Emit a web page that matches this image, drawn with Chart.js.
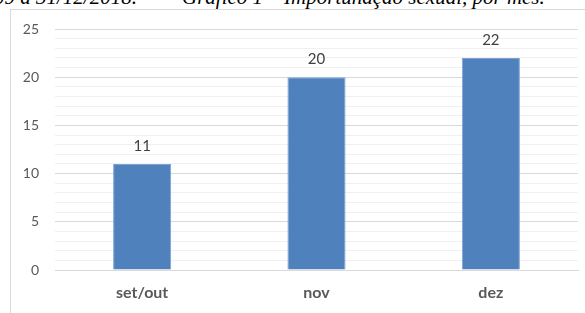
<!DOCTYPE html>
<html>
<head>
<meta charset="utf-8">
<script src="https://cdn.jsdelivr.net/npm/chart.js@4/dist/chart.umd.min.js"></script>
<style>
    html, body { margin: 0; padding: 0; background: #fff; overflow: hidden; }
    body { width: 585px; height: 313px; position: relative; }
    .caption {
        position: absolute; top: -13px; margin: 0;
        font: italic 21px "Liberation Serif", "DejaVu Serif", serif;
        line-height: 21px; color: #000; white-space: pre;
    }
    #frame {
        position: absolute; left: 10px; top: 9px; width: 600px; height: 320px;
        border-left: 1px solid #d9d9d9; border-top: 1px solid #d9d9d9;
    }
    #wrap { position: absolute; left: 0; top: 0; width: 585px; height: 313px; }
</style>
</head>
<body>
<div class="caption" style="left:-6px">09 a 31/12/2018.</div>
<div class="caption" style="left:182px">Gráfico 1 – Importunação sexual, por mês.</div>
<div id="frame"></div>
<div id="wrap"><canvas id="chart"></canvas></div>
<script>
// Importunação sexual, por mês
const months = ['set/out', 'nov', 'dez'];
const cases = [11, 20, 22];

const textGrey = '#595959';

// draw value labels above the bars
const barLabels = {
    id: 'barLabels',
    afterDatasetsDraw(chart) {
        const ctx = chart.ctx;
        const meta = chart.getDatasetMeta(0);
        ctx.save();
        ctx.font = '15px Lato, "Open Sans", sans-serif';
        ctx.fillStyle = '#404040';
        ctx.textAlign = 'center';
        ctx.textBaseline = 'middle';
        meta.data.forEach((bar, i) => {
            ctx.fillText(String(cases[i]), bar.x, bar.y - 18);
        });
        ctx.restore();
    }
};

new Chart(document.getElementById('chart'), {
    type: 'bar',
    data: {
        labels: months,
        datasets: [{
            data: cases,
            backgroundColor: '#4f81bd',
            borderColor: '#7da3d3',
            borderWidth: 1,
            barPercentage: 0.5,
            categoryPercentage: 0.667
        }]
    },
    options: {
        responsive: true,
        maintainAspectRatio: false,
        animation: false,
        layout: { padding: { top: 29, right: 7, bottom: 0, left: 0 } },
        plugins: { legend: { display: false }, tooltip: { enabled: false } },
        scales: {
            x: {
                grid: { display: false, drawTicks: false },
                border: { color: '#d9d9d9' },
                ticks: {
                    color: textGrey,
                    padding: 13,
                    font: { family: 'Lato, "Open Sans", sans-serif', size: 16, weight: 'bold' }
                },
                afterFit(scale) { scale.height = 43; }
            },
            y: {
                min: 0,
                max: 25,
                border: { display: false },
                grid: {
                    drawTicks: false,
                    color: ctx => (ctx.tick && ctx.tick.value % 5 === 0) ? '#d9d9d9' : '#f0f0f0'
                },
                ticks: {
                    stepSize: 1,
                    autoSkip: false,
                    color: textGrey,
                    padding: 16,
                    font: { family: 'Lato, "Open Sans", sans-serif', size: 14 },
                    callback: v => (v % 5 === 0 ? v : '')
                },
                afterFit(scale) { scale.width = 55; }
            }
        }
    },
    plugins: [barLabels]
});
</script>
</body>
</html>
